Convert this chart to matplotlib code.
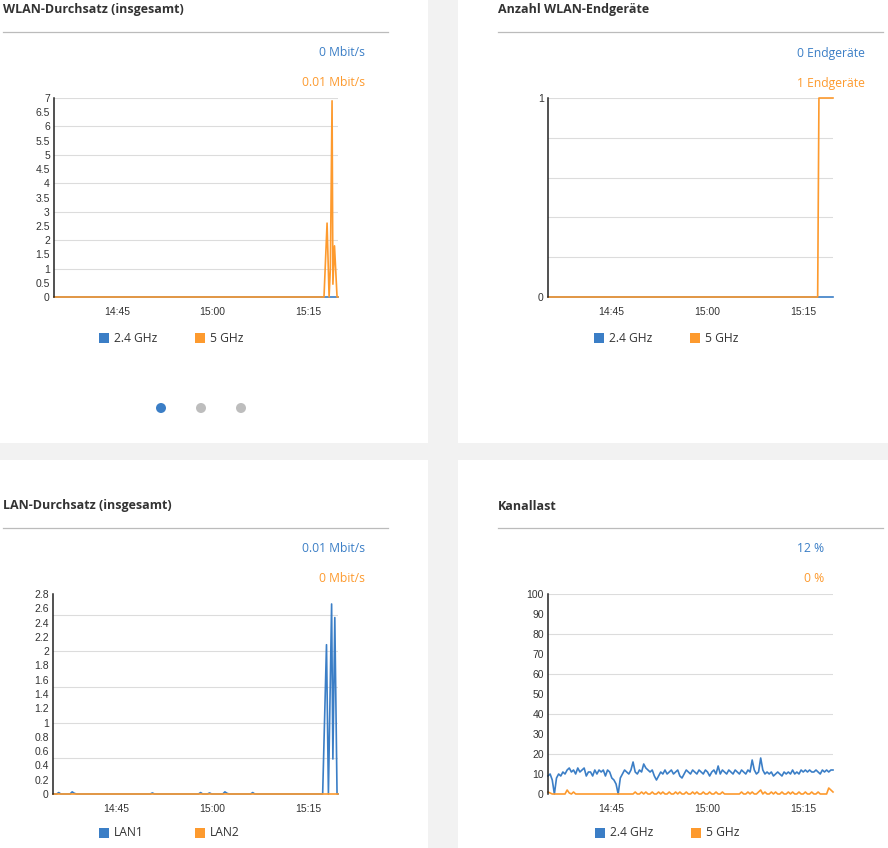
import numpy as np
import matplotlib.pyplot as plt
from matplotlib.patches import Rectangle, Ellipse

W, H = 888, 848
BLUE = '#3b7ec6'
ORANGE = '#fd9a2e'
TXT = '#333333'
GRID = '#dcdcdc'

# time axis (shared by all four charts)
t_start, t_end = "14:35:06", "15:19:42"
time_ticks = ["14:45", "15:00", "15:15"]

# WLAN-Durchsatz (Mbit/s)
wlan_t = ["14:35:06", "15:17:30", "15:17:59", "15:18:18", "15:18:30",
          "15:18:46", "15:18:54", "15:19:09", "15:19:33", "15:19:42"]
wlan_24 = [0, 0, 0, 0, 0, 0, 0, 0, 0, 0]
wlan_5 = [0, 0, 2.6, 0, 1.0, 6.9, 0.45, 1.8, 0, 0]
wlan_yticks = [0, 0.5, 1, 1.5, 2, 2.5, 3, 3.5, 4, 4.5, 5, 5.5, 6, 6.5, 7]
wlan_grid = [1, 2, 3, 4, 5, 6, 7]

# Anzahl WLAN-Endgeraete
dev_t = ["14:35:06", "15:17:18", "15:17:30", "15:19:42"]
dev_24 = [0, 0, 0, 0]
dev_5 = [0, 0, 1, 1]
dev_yticks = [0, 1]
dev_grid = [0.2, 0.4, 0.6, 0.8, 1]

# LAN-Durchsatz (Mbit/s)
lan_t = ["14:35:06", "14:35:40", "14:36:00", "14:36:20", "14:37:46", "14:38:06",
         "14:38:26", "14:38:46", "14:50:19", "14:50:39", "14:50:59", "14:57:52",
         "14:58:12", "14:58:32", "14:59:16", "14:59:36", "14:59:56", "15:01:40",
         "15:02:00", "15:02:20", "15:02:40", "15:06:01", "15:06:21", "15:06:41",
         "15:17:18", "15:17:54", "15:18:12", "15:18:42", "15:18:54", "15:19:12",
         "15:19:33", "15:19:42"]
lan1 = [0, 0, 0.02, 0, 0, 0.03, 0.01, 0, 0, 0.015, 0, 0,
        0.02, 0, 0, 0.015, 0, 0, 0.03, 0.01, 0, 0, 0.02, 0,
        0, 2.09, 0, 2.66, 0.49, 2.47, 0, 0]
lan2_t = ["14:35:06", "15:19:42"]
lan2 = [0, 0]
lan_yticks = [0, 0.2, 0.4, 0.6, 0.8, 1, 1.2, 1.4, 1.6, 1.8, 2, 2.2, 2.4, 2.6, 2.8]
lan_grid = [0.5, 1, 1.5, 2, 2.5]

# Kanallast (%), one sample every ~20 s
load_24 = [9, 10, 7, 0, 8, 10, 9, 11, 10, 12, 13, 11, 12, 10, 13, 11, 12, 13, 9, 11,
           11, 9, 12, 10, 12, 11, 12, 9, 12, 11, 8, 7, 5, 0, 8, 10, 12, 11, 10, 12,
           16, 11, 10, 12, 11, 15, 13, 12, 11, 12, 9, 7, 9, 11, 10, 12, 10, 11, 12, 10,
           11, 12, 9, 8, 10, 12, 11, 10, 12, 11, 10, 12, 11, 10, 12, 11, 9, 11, 12, 10,
           14, 10, 12, 11, 10, 12, 11, 10, 12, 11, 10, 12, 11, 10, 12, 11, 17, 12, 10, 11,
           18, 12, 10, 11, 10, 11, 9, 10, 11, 10, 9, 11, 10, 11, 10, 12, 10, 11, 10, 12,
           11, 12, 11, 12, 11, 11, 12, 11, 10, 12, 11, 12, 11, 12, 12]
load_5 = [1, 0.5, 0, 0, 0, 0, 0, 0, 0, 2, 0.5, 0, 1, 0, 0, 0, 0, 0, 0, 0,
          0, 0, 0, 0, 0, 0, 0, 0, 0, 0, 0, 0, 0, 0, 0, 0, 0, 0, 0, 0,
          0, 1, 0, 0, 1, 0, 1, 0, 0, 1, 0, 0, 1, 0, 1, 0, 0, 1, 0, 0,
          1, 0, 1, 0, 0, 1, 0, 0, 1, 0, 1, 0, 0, 1, 0, 0, 1, 0, 0, 1,
          0, 0, 1, 0, 0, 0, 0, 0, 0, 0, 0, 1, 0, 0, 1, 0, 1, 0, 0, 1,
          2, 0, 1, 0, 0, 1, 0, 1, 0, 0, 1, 0, 0, 1, 0, 1, 0, 0, 1, 0,
          0, 1, 0, 0, 1, 0, 0, 1, 0, 0, 0, 0, 3, 2, 1]
load_yticks = [0, 10, 20, 30, 40, 50, 60, 70, 80, 90, 100]
load_grid = [20, 40, 60, 80, 100]


def to_min(s):
    p = [int(v) for v in s.split(':')]
    sec = p[2] if len(p) > 2 else 0
    return (p[0] - 14) * 60 + p[1] + sec / 60


def tm(lst):
    return [to_min(s) for s in lst]


fig = plt.figure(figsize=(W / 100, H / 100), dpi=100)
fig.patch.set_facecolor('#f2f2f2')


def fx(x):
    return x / W


def fy(y):
    return 1 - y / H


# white panels
for (l, t, r, b) in [(0, 0, 428, 443), (458, 0, 888, 443),
                     (0, 460, 428, 848), (458, 460, 888, 848)]:
    fig.add_artist(Rectangle((fx(l), fy(b)), fx(r - l), (b - t) / H,
                             facecolor='white', edgecolor='none', zorder=0))


def header(x0, y0, title, v1, v2, vx):
    fig.text(fx(x0), fy(y0 + 10), title, fontsize=9, fontweight='bold',
             family='Open Sans', color=TXT, va='center', ha='left')
    fig.add_artist(plt.Line2D([fx(x0), fx(x0 + 385)], [fy(y0 + 32)] * 2,
                              color='#bbbbbb', lw=0.9))
    fig.text(fx(vx), fy(y0 + 53), v1, fontsize=8.7, family='Open Sans',
             color=BLUE, va='center', ha='right')
    fig.text(fx(vx), fy(y0 + 83), v2, fontsize=8.7, family='Open Sans',
             color=ORANGE, va='center', ha='right')


def legend(x0, y0, n1, n2):
    for dx, name, c in [(0, n1, BLUE), (96, n2, ORANGE)]:
        fig.add_artist(Rectangle((fx(x0 + dx), fy(y0 + 5)), 10 / W, 10 / H,
                                 facecolor=c, edgecolor='none'))
        fig.text(fx(x0 + dx + 15), fy(y0), name, fontsize=8.7,
                 family='Open Sans', color=TXT, va='center', ha='left')


def make_ax(l, t, r, b, yticks, grid, ymax):
    ax = fig.add_axes([fx(l), fy(b), (r - l) / W, (b - t) / H])
    ax.set_xlim(to_min(t_start), to_min(t_end))
    ax.set_ylim(0, ymax)
    ax.set_xticks(tm(time_ticks))
    ax.set_xticklabels(time_ticks)
    ax.set_yticks(yticks)
    ax.set_yticklabels([f'{v:g}' for v in yticks])
    for v in grid:
        ax.axhline(v, color=GRID, lw=0.8, zorder=0.5)
    for s in ['top', 'right', 'bottom']:
        ax.spines[s].set_visible(False)
    ax.spines['left'].set_color('#222222')
    ax.spines['left'].set_linewidth(1.1)
    ax.tick_params(length=0, labelsize=7.5, colors='#333333')
    ax.tick_params(axis='x', pad=7)
    ax.tick_params(axis='y', pad=3)
    for lab in ax.get_xticklabels() + ax.get_yticklabels():
        lab.set_family('Liberation Sans')
    ax.set_facecolor('none')
    return ax


# WLAN-Durchsatz
header(3, 0, 'WLAN-Durchsatz (insgesamt)', '0 Mbit/s', '0.01 Mbit/s', 365)
ax1 = make_ax(54, 98, 338, 297, wlan_yticks, wlan_grid, 7)
ax1.plot(tm(wlan_t), wlan_24, color=BLUE, lw=1.2, clip_on=False)
ax1.plot(tm(wlan_t), wlan_5, color=ORANGE, lw=1.2, clip_on=False)
legend(99, 338, '2.4 GHz', '5 GHz')

# pager dots
for i, c in enumerate([BLUE, '#bdbdbd', '#bdbdbd']):
    fig.add_artist(Ellipse((fx(161 + 40 * i), fy(408)), 10 / W, 10 / H,
                           facecolor=c, edgecolor='none'))

# Anzahl WLAN-Endgeraete
header(498, 0, 'Anzahl WLAN-Endgeräte', '0 Endgeräte', '1 Endgeräte', 865)
ax2 = make_ax(548, 98, 833, 297, dev_yticks, dev_grid, 1)
ax2.plot(tm(dev_t), dev_24, color=BLUE, lw=1.2, clip_on=False)
ax2.plot(tm(dev_t), dev_5, color=ORANGE, lw=1.2, clip_on=False)
legend(594, 338, '2.4 GHz', '5 GHz')

# LAN-Durchsatz
header(3, 496, 'LAN-Durchsatz (insgesamt)', '0.01 Mbit/s', '0 Mbit/s', 365)
ax3 = make_ax(53, 594, 338, 794, lan_yticks, lan_grid, 2.8)
ax3.plot(tm(lan_t), lan1, color=BLUE, lw=1.2, clip_on=False)
ax3.plot(tm(lan2_t), lan2, color=ORANGE, lw=1.2, clip_on=False)
legend(99, 833, 'LAN1', 'LAN2')

# Kanallast
header(498, 496, 'Kanallast', '12 %', '0 %', 824)
ax4 = make_ax(548, 594, 833, 794, load_yticks, load_grid, 100)
load_t = np.linspace(to_min(t_start), to_min(t_end), len(load_24))
ax4.plot(load_t, load_24, color=BLUE, lw=1.2, clip_on=False)
ax4.plot(load_t, load_5, color=ORANGE, lw=1.2, clip_on=False)
legend(595, 833, '2.4 GHz', '5 GHz')

fig.savefig('out.png', dpi=100, facecolor=fig.get_facecolor())
